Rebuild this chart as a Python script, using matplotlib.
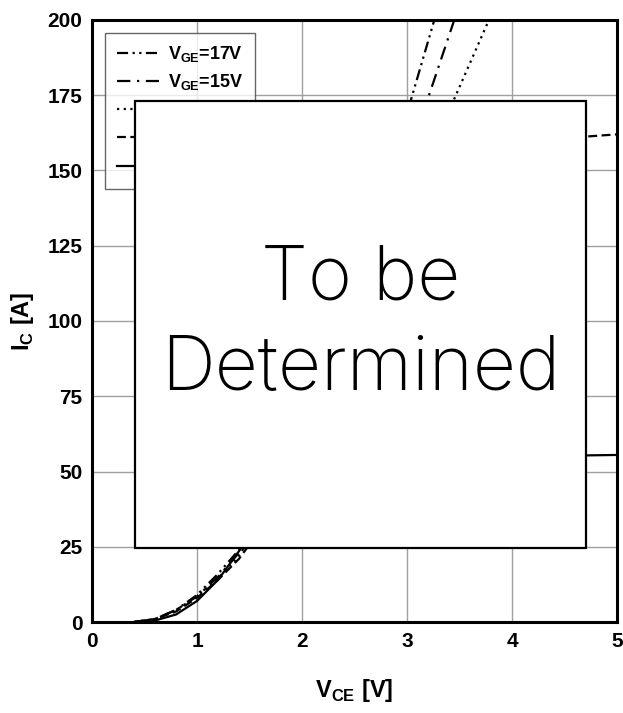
import numpy as np
import matplotlib.pyplot as plt
from matplotlib.patches import Rectangle

# output curves
labels = ["V$_{\\mathregular{GE}}$=17V", "V$_{\\mathregular{GE}}$=15V",
          "V$_{\\mathregular{GE}}$=13V", "V$_{\\mathregular{GE}}$=11V",
          "V$_{\\mathregular{GE}}$=9V"]

vce_17 = [0.40, 0.60, 0.80, 1.00, 1.20, 1.40, 1.80, 2.20, 2.60, 3.00, 3.26]
ic_17 = [0, 1, 4, 9, 16, 24, 50, 80, 120, 169, 200]

vce_15 = [0.40, 0.60, 0.80, 1.00, 1.20, 1.40, 1.80, 2.20, 2.60, 3.00, 3.20, 3.45]
ic_15 = [0, 1, 4, 8.5, 15, 23, 47, 76, 110, 152, 174, 200]

vce_13 = [0.40, 0.60, 0.80, 1.00, 1.20, 1.40, 1.80, 2.20, 2.60, 3.00, 3.44, 3.78]
ic_13 = [0, 1, 4, 8.5, 14.5, 22, 44, 70, 100, 134, 173, 200]

vce_11 = [0.40, 0.60, 0.80, 1.00, 1.20, 1.40, 1.80, 2.20, 2.60, 3.00, 3.40, 3.80, 4.20, 4.60, 5.00]
ic_11 = [0, 1, 3.5, 8, 14, 21, 40, 62, 86, 110, 132, 149, 158, 161, 162]

vce_9 = [0.55, 0.80, 1.00, 1.20, 1.43, 1.80, 2.20, 2.60, 3.00, 4.00, 5.00]
ic_9 = [0, 2.5, 7, 14, 25, 38, 47, 52, 54, 55, 55.5]

curves = [(vce_17, ic_17, (0, (5, 2, 1, 2, 1, 2))),
          (vce_15, ic_15, (0, (6, 3, 1, 3))),
          (vce_13, ic_13, (0, (1, 2))),
          (vce_11, ic_11, (0, (4, 2))),
          (vce_9, ic_9, "-")]

plt.rcParams['font.family'] = ['Liberation Sans', 'DejaVu Sans']
plt.rcParams['mathtext.fontset'] = 'custom'
plt.rcParams['mathtext.rm'] = 'Liberation Sans:bold'

fig = plt.figure(figsize=(6.23, 7.13), dpi=100)
ax = fig.add_axes([0.1477, 0.1276, 0.8427, 0.8444])

for (vx, iy, ls), lab in zip(curves, labels):
    ax.plot(vx, iy, color="black", lw=1.6, linestyle=ls, label=lab)

ax.set_xlim(0, 5)
ax.set_ylim(0, 200)
ax.set_xticks(np.arange(0, 6, 1))
ax.set_yticks(np.arange(0, 225, 25))
ax.grid(True, color="#a0a0a0", lw=1.0)
ax.tick_params(length=0, labelsize=15, pad=7)
for t in ax.get_xticklabels() + ax.get_yticklabels():
    t.set_fontweight("bold")
for s in ax.spines.values():
    s.set_linewidth(2.2)

ax.set_xlabel("V$_{\\mathregular{CE}}$ [V]", fontsize=17, fontweight="bold", labelpad=19)
ax.set_ylabel("I$_{\\mathregular{C}}$ [A]", fontsize=17, fontweight="bold", labelpad=8)

leg = ax.legend(loc="upper left", bbox_to_anchor=(0.008, 0.994), fontsize=13,
                frameon=True, fancybox=False, edgecolor="#404040",
                handlelength=2.3, handletextpad=0.5, borderpad=0.65, labelspacing=0.45)
leg.get_frame().set_linewidth(1.0)
for t in leg.get_texts():
    t.set_fontweight("bold")

# placeholder overlay
ax.add_patch(Rectangle((0.41, 24.6), 4.29, 148.5, facecolor="white",
                       edgecolor="black", lw=1.6, zorder=10))
ax.text(2.555, 99.0, "To be\nDetermined", ha="center", va="center",
        fontsize=54, family="Inter", fontweight="light", linespacing=1.36, zorder=11)

fig.savefig("out.png", dpi=100)
